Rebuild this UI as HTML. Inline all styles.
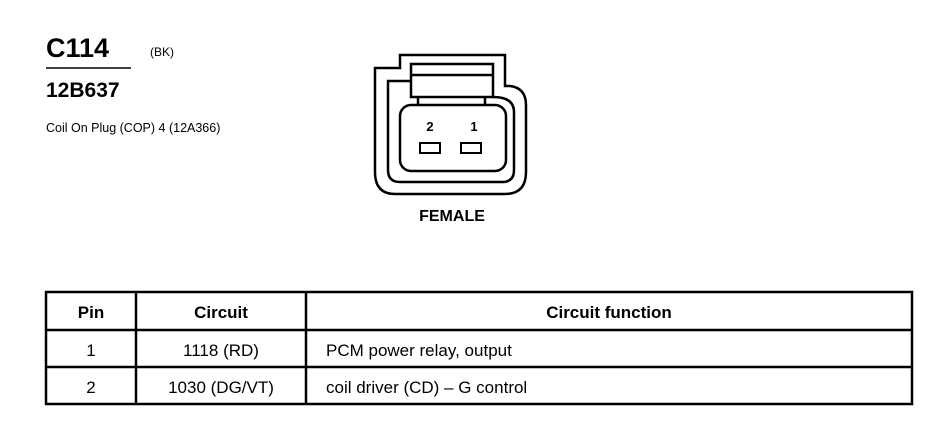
<!DOCTYPE html>
<html><head><style>
body{margin:0;background:#fff;width:940px;height:448px;overflow:hidden;font-family:"Liberation Sans",Arial,sans-serif;}
</style></head><body>
<svg width="940" height="448" xmlns="http://www.w3.org/2000/svg" style="position:absolute;left:0;top:0">
<g font-family="Liberation Sans, Arial, sans-serif" fill="#000">
<text x="46" y="57" font-size="27" font-weight="bold">C114</text>
<line x1="46" y1="68" x2="131" y2="68" stroke="#000" stroke-width="1.5"/>
<text x="150" y="56" font-size="12">(BK)</text>
<text x="46" y="97" font-size="21" font-weight="bold">12B637</text>
<text x="46" y="132" font-size="12.5">Coil On Plug (COP) 4 (12A366)</text>
<text x="452" y="221" font-size="16" font-weight="bold" text-anchor="middle">FEMALE</text>
</g>
<g fill="none" stroke="#000" stroke-width="2.5">
<path d="M375,68 L400,68 L400,55 L505,55 L505,86 L510,86 Q526,88 526,105 L526,172 Q526,194 505,194 L395,194 Q375,194 375,172 Z"/>
<path d="M411,81 L388,81 L388,170 Q388,182 400,182 L502,182 Q514,182 514,170 L514,112 Q514,97 493,97"/>
<rect x="411" y="64" width="82" height="33"/>
<line x1="411" y1="75" x2="493" y2="75"/>
<rect x="400" y="105" width="106" height="66" rx="11"/>
<line x1="418" y1="97" x2="418" y2="105"/>
<line x1="485" y1="97" x2="485" y2="105"/>
<rect x="420" y="143" width="20" height="10" stroke-width="2"/>
<rect x="461" y="143" width="20" height="10" stroke-width="2"/>
</g>
<g font-family="Liberation Sans, Arial, sans-serif" font-size="13" font-weight="bold" text-anchor="middle">
<text x="430" y="131">2</text><text x="474" y="131">1</text>
</g>
<g stroke="#000" stroke-width="2.5" fill="none">
<rect x="46" y="292" width="866" height="112"/>
<line x1="46" y1="330" x2="912" y2="330"/>
<line x1="46" y1="367" x2="912" y2="367"/>
<line x1="136" y1="292" x2="136" y2="404"/>
<line x1="306" y1="292" x2="306" y2="404"/>
</g>
<g font-family="Liberation Sans, Arial, sans-serif" font-size="17" fill="#000">
<text x="91" y="318" text-anchor="middle" font-weight="bold">Pin</text>
<text x="221" y="318" text-anchor="middle" font-weight="bold">Circuit</text>
<text x="609" y="318" text-anchor="middle" font-weight="bold">Circuit function</text>
<text x="91" y="356" text-anchor="middle">1</text>
<text x="221" y="356" text-anchor="middle">1118 (RD)</text>
<text x="326" y="356">PCM power relay, output</text>
<text x="91" y="393" text-anchor="middle">2</text>
<text x="221" y="393" text-anchor="middle">1030 (DG/VT)</text>
<text x="326" y="393">coil driver (CD) – G control</text>
</g>
</svg>
</body></html>
